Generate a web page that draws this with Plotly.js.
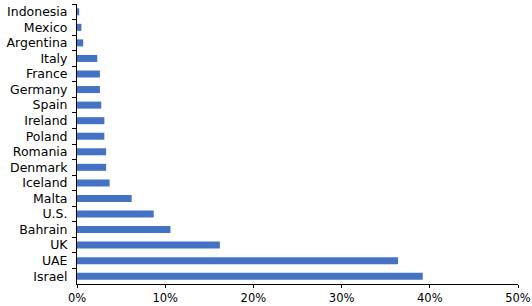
<!DOCTYPE html>
<html>
<head>
<meta charset="utf-8">
<script src="https://cdn.plot.ly/plotly-3.0.1.min.js"></script>
<style>html,body{margin:0;padding:0;background:#fff;}#chart{width:532px;height:306px;}</style>
</head>
<body>
<div id="chart"></div>
<script>
const countries = ["Indonesia","Mexico","Argentina","Italy","France","Germany","Spain","Ireland","Poland","Romania","Denmark","Iceland","Malta","U.S.","Bahrain","UK","UAE","Israel"];
const shares = [0.25,0.5,0.7,2.3,2.6,2.6,2.75,3.1,3.1,3.3,3.3,3.7,6.2,8.7,10.6,16.2,36.4,39.2];
const xTickVals = [0,10,20,30,40,50];
const xTickText = ["0%","10%","20%","30%","40%","50%"];

Plotly.newPlot("chart", [{
  type: "bar",
  orientation: "h",
  y: countries,
  x: shares,
  width: 0.45,
  marker: {color: "#4472C4"},
  hoverinfo: "skip"
}], {
  width: 532, height: 306,
  margin: {l: 77, r: 14, t: 4, b: 22},
  paper_bgcolor: "#fff", plot_bgcolor: "#fff",
  showlegend: false,
  font: {family: "DejaVu Sans", size: 11, color: "#000"},
  xaxis: {
    range: [0, 50], tickvals: xTickVals, ticktext: xTickText,
    showgrid: false, zeroline: false, showline: true, linecolor: "#000", linewidth: 1,
    ticks: "outside", ticklen: 3, tickcolor: "#000", fixedrange: true,
    tickfont: {size: 11.5}
  },
  yaxis: {
    type: "category", autorange: "reversed",
    showgrid: false, zeroline: false, showline: true, linecolor: "#000", linewidth: 1,
    ticks: "outside", tickson: "boundaries", ticklen: 4, tickcolor: "#000",
    ticklabelstandoff: 6, fixedrange: true,
    tickfont: {size: 12.5}
  }
}, {staticPlot: true, displayModeBar: false});
</script>
</body>
</html>
